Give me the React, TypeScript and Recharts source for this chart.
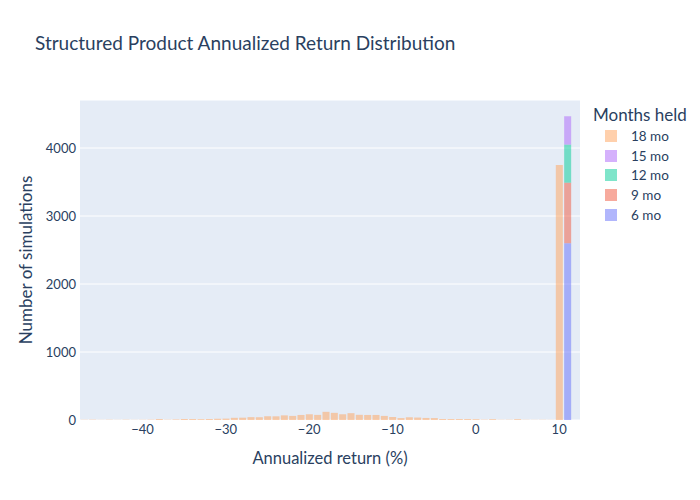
import { BarChart, Bar, XAxis, YAxis, CartesianGrid } from 'recharts'

// histogram bin centres, 1 percentage point wide
const bins = [
  -47, -46, -45, -44, -43, -42, -41, -40, -39, -38, -37, -36, -35, -34, -33, -32, -31, -30, -29, -28,
  -27, -26, -25, -24, -23, -22, -21, -20, -19, -18, -17, -16, -15, -14, -13, -12, -11, -10, -9, -8,
  -7, -6, -5, -4, -3, -2, -1, 0, 1, 2, 3, 4, 5, 6, 7, 8, 9, 10, 11, 12,
]

// 18 month holders: full distribution plus the capped spike at 10%
const counts18 = [
  3, 5, 2, 4, 2, 4, 2, 3, 5, 14, 4, 8, 15, 14, 12, 15, 18, 20, 32, 34,
  42, 40, 55, 54, 68, 60, 74, 84, 75, 120, 105, 84, 100, 76, 74, 74, 60, 44, 28, 40,
  36, 30, 28, 15, 14, 14, 14, 12, 5, 12, 3, 4, 12, 3, 2, 3, 2, 3750, 0, 0,
]

// shorter holding periods all land in the cap bin
const counts15: Record<number, number> = { 11: 417 }
const counts12: Record<number, number> = { 11: 560 }
const counts9: Record<number, number> = { 11: 890 }
const counts6: Record<number, number> = { 11: 2600 }

const series = [
  { key: 'm6', name: '6 mo', color: '#636efa' },
  { key: 'm9', name: '9 mo', color: '#EF553B' },
  { key: 'm12', name: '12 mo', color: '#00cc96' },
  { key: 'm15', name: '15 mo', color: '#ab63fa' },
  { key: 'm18', name: '18 mo', color: '#FFA15A' },
]

const yTicks = [0, 1000, 2000, 3000, 4000]

const data = bins.map((bin, i) => ({
  bin,
  m6: counts6[bin] ?? 0,
  m9: counts9[bin] ?? 0,
  m12: counts12[bin] ?? 0,
  m15: counts15[bin] ?? 0,
  m18: counts18[i],
}))

const FONT = 'Lato, "Noto Sans", sans-serif'
const INK = '#2a3f5f'

const fmtX = (v: number) => (v % 10 === 0 ? (v < 0 ? '\u2212' + Math.abs(v) : String(v)) : '')

function LegendBox() {
  return (
    <div style={{ position: 'absolute', left: 593, top: 104, fontFamily: FONT, color: INK }}>
      <div style={{ fontSize: 17, marginBottom: 1 }}>Months held</div>
      {[...series].reverse().map(s => (
        <div key={s.key} style={{ display: 'flex', alignItems: 'center', height: 19.8 }}>
          <span style={{ width: 12, height: 12, marginLeft: 12, background: s.color, opacity: 0.5 }} />
          <span style={{ fontSize: 13.5, marginLeft: 14 }}>{s.name}</span>
        </div>
      ))}
    </div>
  )
}

export default function App() {
  return (
    <div style={{ position: 'absolute', left: 0, top: 0, width: 700, height: 500, background: '#fff' }}>
      <div style={{ position: 'absolute', left: 35, top: 31, fontFamily: FONT, fontSize: 19, color: INK }}>
        Structured Product Annualized Return Distribution
      </div>
      <LegendBox />
      <BarChart
        width={700} height={500} data={data}
        margin={{ top: 100, right: 120, left: 0, bottom: 0 }}
        barCategoryGap="10%"
        style={{ fontFamily: FONT }}
      >
        <CartesianGrid fill="#E5ECF6" stroke="#fff" vertical={false} />
        <XAxis
          dataKey="bin" type="category" height={80} interval={0}
          axisLine={false} tickLine={false} tickSize={3} tickMargin={2}
          tickFormatter={fmtX}
          tick={{ fill: INK, fontSize: 13 }}
          label={{
            content: ({ viewBox }: any) => (
              <text x={viewBox.x + viewBox.width / 2} y={viewBox.y + 38} textAnchor="middle"
                dominantBaseline="central" fill={INK} fontSize={16.5} fontFamily={FONT}>
                Annualized return (%)
              </text>
            ),
          }}
        />
        <YAxis
          type="number" width={80} domain={[0, 4706]} ticks={yTicks} allowDataOverflow
          axisLine={false} tickLine={false} tickSize={2} tickMargin={2}
          tick={{ fill: INK, fontSize: 13 }}
          label={{
            content: ({ viewBox }: any) => {
              const cx = 25
              const cy = viewBox.y + viewBox.height / 2
              return (
                <text x={cx} y={cy} transform={`rotate(-90 ${cx} ${cy})`} textAnchor="middle"
                  dominantBaseline="central" fill={INK} fontSize={17} fontFamily={FONT}>
                  Number of simulations
                </text>
              )
            },
          }}
        />
        {series.map(s => (
          <Bar key={s.key} dataKey={s.key} name={s.name} stackId="a"
            fill={s.color} fillOpacity={0.5} isAnimationActive={false} />
        ))}
      </BarChart>
    </div>
  )
}
